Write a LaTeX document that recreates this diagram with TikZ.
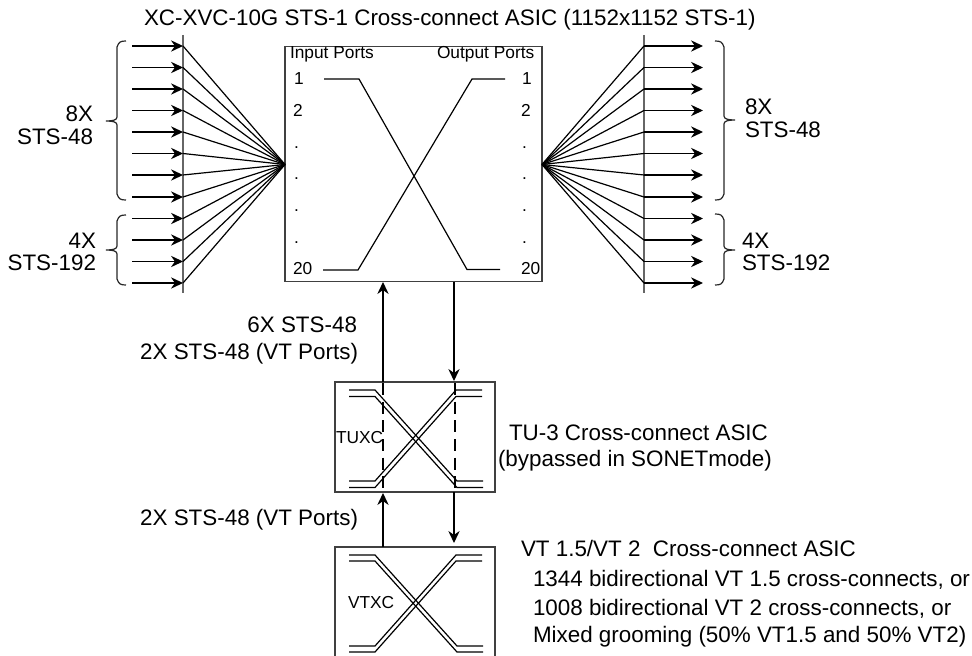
\documentclass[tikz,border=0pt]{standalone}
\usepackage{fontspec}
\setmainfont{Liberation Sans}
\usetikzlibrary{arrows.meta}
\newcommand{\bigf}{\fontsize{16.8pt}{20pt}\selectfont}
\newcommand{\smallf}{\fontsize{13pt}{15pt}\selectfont}
\tikzset{
  x=0.75pt,y=-0.75pt,
  box/.style={draw=black!75,line width=0.8pt,inner sep=0,outer sep=0,anchor=north west},
  bus/.style={draw=black!60,line width=1pt},
  thin line/.style={draw=black,line width=0.9pt},
  arr/.style={draw=black,line width=0.9pt,-{Stealth[length=9pt,width=8.5pt]}},
  lab/.style={inner sep=0,outer sep=0,font=\bigf,anchor=base west},
  labr/.style={inner sep=0,outer sep=0,font=\bigf,anchor=base east},
  sm/.style={inner sep=0,outer sep=0,font=\smallf,anchor=base west},
  brace/.style={draw=black!85,line width=0.9pt},
}
\begin{document}
\begin{tikzpicture}
\useasboundingbox (0,0) rectangle (972,656);
\clip (0,0) rectangle (972,656);
% boxes
\node[box,minimum width=192.75pt,minimum height=176pt] (xc) at (285,46.5) {};
\node[box,minimum width=120pt,minimum height=82.5pt] (tuxc) at (335,382) {};
\node[box,minimum width=120pt,minimum height=90pt] (vtxc) at (335,547) {};
% fan points
\coordinate (fl) at (xc.west |- 0,164.5);
\coordinate (fr) at (xc.east |- 0,164.5);
\coordinate (bl1) at (183,35); \coordinate (bl2) at (183,293);
\coordinate (br1) at (644,35); \coordinate (br2) at (644,293);
\draw[bus] (bl1) -- (bl2);
\draw[bus] (br1) -- (br2);
\foreach \i/\y in {1/46,2/67.5,3/89,4/110.5,5/132,6/153.5,7/175,8/197,9/218.5,10/240,11/261.5,12/283}{
  \coordinate (la\i) at (132,\y);
  \coordinate (lb\i) at (183,\y);
  \coordinate (ra\i) at (644,\y);
  \coordinate (rb\i) at (703,\y);
  \draw[arr] (la\i) -- (lb\i);
  \draw[arr] (ra\i) -- (rb\i);
  \draw[thin line] (lb\i) -- (fl);
  \draw[thin line] (ra\i) -- (fr);
}
% main X
\coordinate (a1) at (324,79); \coordinate (a2) at (359,79);
\coordinate (a3) at (467,269.5); \coordinate (a4) at (500,269.5);
\coordinate (b1) at (323,270); \coordinate (b2) at (358,270);
\coordinate (b3) at (472,79); \coordinate (b4) at (505,79);
\draw[thin line] (a1) -- (a2) -- (a3) -- (a4);
\draw[thin line] (b1) -- (b2) -- (b3) -- (b4);
% vertical connectors
\coordinate (u1) at (383,382); \coordinate (u2) at (383,282);
\coordinate (d1) at (454,282); \coordinate (d2) at (454,381);
\coordinate (u3) at (383,547); \coordinate (u4) at (383,493);
\coordinate (d3) at (454,492); \coordinate (d4) at (454,543);
\draw[arr] (u1) -- (u2);
\draw[arr] (d1) -- (d2);
\draw[arr] (u3) -- (u4);
\draw[arr] (d3) -- (d4);
\coordinate (t1) at (383,383); \coordinate (t2) at (383,491);
\coordinate (t3) at (455,383); \coordinate (t4) at (455,491);
\draw[thin line,dash pattern=on 9pt off 5pt] (t1) -- (t2);
\draw[thin line,dash pattern=on 9pt off 5pt] (t3) -- (t4);
% double X
\foreach \t in {390,396.5,555,561}{
  \pgfmathsetmacro{\tb}{\t+91}
  \draw[thin line] (349,\t) -- (375,\t) -- (457,\tb) -- (483,\tb);
  \draw[thin line] (482,\t) -- (456,\t) -- (375,\tb) -- (349,\tb);
}
% braces
\newcommand{\bracel}[4]{\draw[brace] (#1+11,#2) .. controls (#1+5,#2) and (#1+4,#2+1) .. (#1+2,#2+6) -- (#1+2,#4-4) .. controls (#1+2,#4-1) and (#1-2,#4) .. (#1-9,#4) .. controls (#1-2,#4) and (#1+2,#4+1) .. (#1+2,#4+4) -- (#1+2,#3-6) .. controls (#1+4,#3-1) and (#1+5,#3) .. (#1+11,#3);}
\newcommand{\bracer}[4]{\draw[brace] (#1-11,#2) .. controls (#1-5,#2) and (#1-4,#2+1) .. (#1-2,#2+6) -- (#1-2,#4-4) .. controls (#1-2,#4-1) and (#1+2,#4) .. (#1+9,#4) .. controls (#1+2,#4) and (#1-2,#4+1) .. (#1-2,#4+4) -- (#1-2,#3-6) .. controls (#1-4,#3-1) and (#1-5,#3) .. (#1-11,#3);}
\bracel{115}{41}{200}{121}
\bracel{115}{215}{285}{250}
\bracer{726}{41}{200}{120}
\bracer{726}{214}{285}{250}
% labels
\node[lab] (title) at (144,26) {XC-XVC-10G STS-1 Cross-connect ASIC (1152x1152 STS-1)};
\node[labr] (l8a) at (93,122) {8X};
\node[labr] (l8b) at (93,145) {STS-48};
\node[labr] (l4a) at (96,249) {4X};
\node[labr] (l4b) at (96,271) {STS-192};
\node[lab] (r8a) at (745,115) {8X};
\node[lab] (r8b) at (745,137.5) {STS-48};
\node[lab] (r4a) at (742,249) {4X};
\node[lab] (r4b) at (742,271) {STS-192};
\node[sm] (ip) at (290,59) {Input Ports};
\node[sm] (op) at (437,59) {Output Ports};
\node[sm] (i1) at (294,85) {1};
\node[sm] (i2) at (293,117) {2};
\node[sm] (id1) at (294,149) {.};
\node[sm] (id2) at (294,180) {.};
\node[sm] (id3) at (294,212) {.};
\node[sm] (id4) at (294,244) {.};
\node[sm] (i20) at (293,275) {20};
\node[sm] (o1) at (522,85) {1};
\node[sm] (o2) at (521,117) {2};
\node[sm] (od1) at (522,149) {.};
\node[sm] (od2) at (522,180) {.};
\node[sm] (od3) at (522,212) {.};
\node[sm] (od4) at (522,244) {.};
\node[sm] (o20) at (521,275) {20};
\node[labr] (s1) at (357,333) {6X STS-48};
\node[labr] (s2) at (358,359) {2X STS-48 (VT Ports)};
\node[labr] (s3) at (358,525) {2X STS-48 (VT Ports)};
\node[lab] (tu1) at (509,440) {TU-3 Cross-connect ASIC};
\node[lab] (tu2) at (498,466) {(bypassed in SONETmode)};
\node[sm] (tx) at (336,443) {TUXC};
\node[sm] (vx) at (348,608) {VTXC};
\node[lab] (v1) at (521,556) {VT 1.5/VT 2\ \ Cross-connect ASIC};
\node[lab] (v2) at (533,586) {1344 bidirectional VT 1.5 cross-connects, or};
\node[lab] (v3) at (533,615.5) {1008 bidirectional VT 2 cross-connects, or};
\node[lab] (v4) at (533,642) {Mixed grooming (50\% VT1.5 and 50\% VT2)};
\end{tikzpicture}
\end{document}
